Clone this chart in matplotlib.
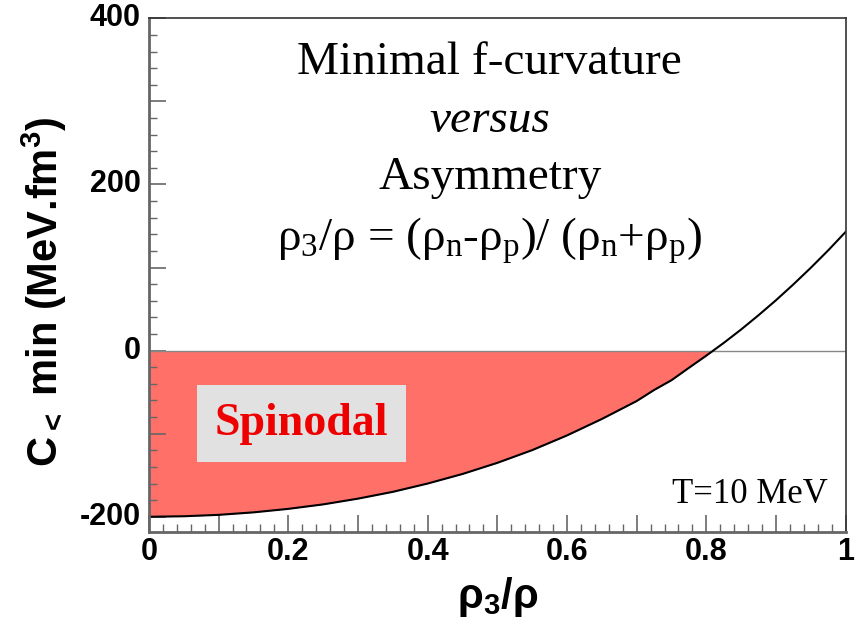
import matplotlib
matplotlib.use("Agg")
from matplotlib import pyplot as plt
from matplotlib.ticker import MultipleLocator

# values
asym = [0.0, 0.05, 0.10, 0.15, 0.20, 0.25, 0.30, 0.35, 0.40, 0.45, 0.50,
        0.55, 0.60, 0.65, 0.70, 0.725, 0.75, 0.775, 0.80, 0.825, 0.85,
        0.875, 0.90, 0.925, 0.95, 0.975, 1.0]
c_min = [-200.0, -199.4, -197.7, -194.7, -190.5, -185.1, -178.2, -170.0,
         -160.0, -148.5, -135.1, -119.8, -102.1, -82.3, -60.7, -47.4,
         -35.6, -20.7, -6.0, 9.3, 25.5, 42.7, 60.7, 79.8, 99.8, 120.8, 143.0]
x_ticks = [0, 0.2, 0.4, 0.6, 0.8, 1.0]
x_tick_labels = ["0", "0.2", "0.4", "0.6", "0.8", "1"]
y_ticks = [-200, 0, 200, 400]

plt.rcParams["mathtext.default"] = "regular"

fig = plt.figure(figsize=(8.56, 6.3), dpi=100)
ax = fig.add_axes([0.174, 0.156, 0.814, 0.815])

# spinodal region: between the curve and zero where the curve is negative
ax.fill_between(asym, c_min, 0, where=[c <= 0 for c in c_min],
                interpolate=True, color="#ff7069", lw=0)
ax.axhline(0, color="#888888", lw=1.0)
ax.plot(asym, c_min, color="black", lw=1.5)

ax.set_xlim(0, 1)
ax.set_ylim(-218, 400)

ax.xaxis.set_major_locator(MultipleLocator(0.1))
ax.xaxis.set_minor_locator(MultipleLocator(0.02))
ax.yaxis.set_major_locator(MultipleLocator(100))
ax.yaxis.set_minor_locator(MultipleLocator(20))
ax.tick_params(which="both", direction="in", color="#666666", top=False, right=False,
               labelleft=False, labelbottom=False)
ax.tick_params(which="major", length=12, width=1.2)
ax.tick_params(which="minor", length=6, width=1.0)

for sp in ["left", "bottom"]:
    ax.spines[sp].set_color("#666666")
    ax.spines[sp].set_linewidth(2.0)
for sp in ["top", "right"]:
    ax.spines[sp].set_color("#333333")
    ax.spines[sp].set_linewidth(1.2)

# tick labels as text in ROOT style
for xv, lab in zip(x_ticks, x_tick_labels):
    ax.text(xv, -0.01, lab, transform=ax.get_xaxis_transform(), ha="center", va="top",
            fontsize=22, fontweight="bold", family="Liberation Sans")
for yv in y_ticks:
    ax.text(-0.012, yv, str(yv), transform=ax.get_yaxis_transform(), ha="right", va="center",
            fontsize=22, fontweight="bold", family="Liberation Sans")

ax.set_xlabel(r"ρ$_3$/ρ", fontsize=30, fontweight="bold", family="Liberation Sans")
ax.xaxis.set_label_coords(0.5, -0.085)
ax.set_ylabel(r"C$_<$ min (MeV.fm$^3$)", fontsize=30, fontweight="bold",
              family="Liberation Sans")
ax.yaxis.set_label_coords(-0.115, 0.467)

serif = "Liberation Serif"
ax.text(0.489, 0.914, "Minimal f-curvature", transform=ax.transAxes, ha="center",
        va="center", fontsize=34, family=serif)
ax.text(0.489, 0.80, "versus", transform=ax.transAxes, ha="center", va="center",
        fontsize=34, family=serif, style="italic")
ax.text(0.489, 0.689, "Asymmetry", transform=ax.transAxes, ha="center", va="center",
        fontsize=34, family=serif)
ax.text(0.489, 0.566, r"ρ$_3$/ρ = (ρ$_n$-ρ$_p$)/ (ρ$_n$+ρ$_p$)", transform=ax.transAxes,
        ha="center", va="center", fontsize=34, family=serif)

ax.text(0.219, -88, "Spinodal", transform=ax.get_yaxis_transform(), ha="center",
        va="center", fontsize=33, fontweight="bold", family=serif, color="#ee0000",
        bbox=dict(boxstyle="square,pad=0.38", facecolor="#e1e1e1", edgecolor="none"))

ax.text(0.974, 0.072, "T=10 MeV", transform=ax.transAxes, ha="right", va="center",
        fontsize=25, family=serif)

fig.savefig("out.png", dpi=100)
